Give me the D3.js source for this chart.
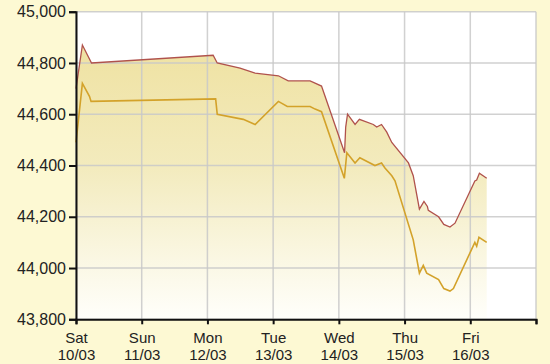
<!DOCTYPE html>
<html>
<head>
<meta charset="utf-8">
<script src="https://cdn.jsdelivr.net/npm/d3@7"></script>
<style>
  body { margin: 0; background: #fdf9d3; }
  svg { display: block; }
  .tick text { font-family: "Liberation Sans", Arial, sans-serif; fill: #222; }
</style>
</head>
<body>
<svg id="chart" width="550" height="364"></svg>
<script>
// sell price (upper, red line)
const sellTimes = ["10 00:00","10 02:20","10 05:40","12 02:05","12 03:35","12 11:55","12 17:25",
  "13 01:55","13 05:30","13 13:30","13 17:40","14 02:05","14 02:30","14 03:10","14 05:55","14 07:30",
  "14 12:35","14 13:50","14 15:35","14 17:30","14 19:20","15 01:25","15 03:10","15 05:25","15 07:05",
  "15 08:20","15 08:40","15 12:25","15 14:20","15 16:35","15 18:25","16 01:40","16 02:20","16 03:20","16 06:00"];
const sellValues = [44700,44870,44800,44830,44800,44780,44760,
  44750,44730,44730,44710,44450,44550,44600,44560,44580,
  44560,44550,44560,44530,44490,44410,44360,44230,44260,
  44240,44225,44200,44170,44160,44175,44340,44343,44370,44350];

// buy price (lower, gold line)
const buyTimes = ["10 00:00","10 02:20","10 04:55","10 05:30","12 03:00","12 03:35","12 13:05","12 17:25",
  "13 01:55","13 05:10","13 13:30","13 15:20","13 17:40","14 02:00","14 02:55","14 05:55","14 07:40",
  "14 13:10","14 15:35","14 16:50","14 19:20","14 20:30","15 03:10","15 05:25","15 06:50","15 08:05",
  "15 12:25","15 14:20","15 16:35","15 17:50","16 01:40","16 02:20","16 03:10","16 06:00"];
const buyValues = [44490,44720,44670,44650,44660,44600,44580,44560,
  44650,44630,44630,44620,44610,44350,44450,44410,44430,
  44400,44410,44390,44360,44340,44110,43980,44010,43980,
  43955,43920,43910,43920,44100,44085,44120,44100];

const yTicks = [43800, 44000, 44200, 44400, 44600, 44800, 45000];

const parse = d3.timeParse("%Y-%m-%d %H:%M");
const toDate = s => parse("2012-03-" + s);
const sell = sellTimes.map((t, i) => ({ t: toDate(t), v: sellValues[i] }));
const buy = buyTimes.map((t, i) => ({ t: toDate(t), v: buyValues[i] }));

const pLeft = 76, pRight = 536, pTop = 11.7, pBottom = 319.3;
const svg = d3.select("#chart");

const x = d3.scaleTime()
  .domain([new Date(2012, 2, 10), new Date(2012, 2, 17)])
  .range([pLeft, pRight]);
const y = d3.scaleLinear().domain([43800, 45000]).range([pBottom, pTop]);

// plot background
svg.append("rect").attr("x", pLeft).attr("y", pTop)
  .attr("width", pRight - pLeft).attr("height", pBottom - pTop).attr("fill", "#fff");

const defs = svg.append("defs");
const grad = defs.append("linearGradient").attr("id", "fillGrad")
  .attr("gradientUnits", "userSpaceOnUse")
  .attr("x1", 0).attr("x2", 0).attr("y1", y(44870)).attr("y2", pBottom);
grad.append("stop").attr("offset", 0).attr("stop-color", "#efe2a2");
grad.append("stop").attr("offset", 0.45).attr("stop-color", "#f3ebbe");
grad.append("stop").attr("offset", 1).attr("stop-color", "#fffffb");

// filled area under sell line
svg.append("path").datum(sell)
  .attr("fill", "url(#fillGrad)")
  .attr("d", d3.area().x(d => x(d.t)).y0(pBottom).y1(d => y(d.v)));

// grid
const days = d3.timeDay.range(new Date(2012, 2, 10), new Date(2012, 2, 18));
svg.append("g").selectAll("line").data(days).enter().append("line")
  .attr("x1", d => x(d)).attr("x2", d => x(d))
  .attr("y1", pTop).attr("y2", pBottom)
  .attr("stroke", "#c9c9c9").attr("stroke-width", 1.5).attr("opacity", 0.85);
svg.append("g").selectAll("line").data(yTicks).enter().append("line")
  .attr("x1", pLeft).attr("x2", pRight)
  .attr("y1", d => y(d)).attr("y2", d => y(d))
  .attr("stroke", "#c9c9c9").attr("stroke-width", 1.5).attr("opacity", 0.85);

// lines
const line = d3.line().x(d => x(d.t)).y(d => y(d.v));
svg.append("path").datum(buy).attr("fill", "none")
  .attr("stroke", "#d3a22a").attr("stroke-width", 1.6).attr("d", line);
svg.append("path").datum(sell).attr("fill", "none")
  .attr("stroke", "#b0524c").attr("stroke-width", 1.3).attr("d", line);

// y axis
const yAxis = svg.append("g").attr("transform", `translate(${pLeft},0)`)
  .call(d3.axisLeft(y).tickValues(yTicks).tickSize(7).tickPadding(3)
    .tickFormat(d3.format(",")));
yAxis.selectAll("text").attr("font-size", 16);
yAxis.selectAll("line, path").attr("stroke", "#111").attr("stroke-width", 2);

// x axis
const fmtDay = d3.timeFormat("%a"), fmtDate = d3.timeFormat("%d/%m");
const xAxis = svg.append("g").attr("transform", `translate(0,${pBottom})`)
  .call(d3.axisBottom(x).tickValues(days).tickSize(5).tickFormat(""));
xAxis.selectAll("line, path").attr("stroke", "#111").attr("stroke-width", 2);
xAxis.selectAll(".tick").filter((d, i) => i < 7).each(function (d) {
  const t = d3.select(this).append("text").attr("fill", "#222")
    .attr("font-size", 15).attr("text-anchor", "middle");
  t.append("tspan").attr("x", 0).attr("y", 24).text(fmtDay(d));
  t.append("tspan").attr("x", 0).attr("y", 41).text(fmtDate(d));
});
</script>
</body>
</html>
